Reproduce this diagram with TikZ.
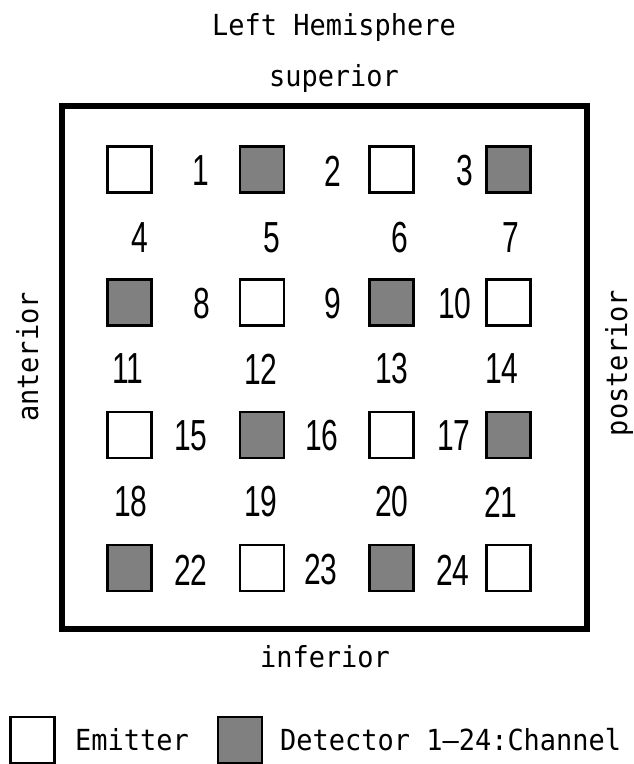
\documentclass[tikz,border=0pt]{standalone}
\usepackage{fontspec}
\setmainfont[FakeStretch=0.93]{DejaVu Sans Mono}
\newfontfamily\digitfont[FakeStretch=0.69]{Liberation Sans}
\definecolor{detgray}{RGB}{128,128,128}
\tikzset{
  probe/.style={draw=black, line width=2.7pt, minimum width=44pt, minimum height=46pt, inner sep=0pt},
  emitter/.style={probe, fill=white},
  detector/.style={probe, fill=detgray},
  chnum/.style={inner sep=0pt, font=\digitfont\fontsize{43.5}{44}\selectfont},
  caption/.style={inner sep=0pt, anchor=base, font=\fontsize{29}{30}\selectfont},
}
\begin{document}
\begin{tikzpicture}[x=1pt, y=-1pt]
  \useasboundingbox (0,0) rectangle (633,764);

  % headings and orientation labels
  \node[caption] (title) at (334,35) {Left Hemisphere};
  \node[caption] (sup) at (334,86) {superior};
  \node[caption] (inf) at (325,667) {inferior};
  \node[caption, rotate=90] (ant) at (38,357) {anterior};
  \node[caption, rotate=90] (post) at (627,363) {posterior};

  % probe holder outline
  \node[draw=black, line width=6pt, minimum width=525pt, minimum height=522.5pt, inner sep=0pt] (holder) at (324.5,367.25) {};

  % optode grid: rows at 169.5, 302.5, 435, 568
  \node[emitter]  (o11) at (129.5,169.5) {};
  \node[detector] (o12) at (262,169.5) {};
  \node[emitter]  (o13) at (391.5,169.5) {};
  \node[detector] (o14) at (508.5,169.5) {};

  \node[detector] (o21) at (129.5,302.5) {};
  \node[emitter]  (o22) at (262,302.5) {};
  \node[detector] (o23) at (391.5,302.5) {};
  \node[emitter]  (o24) at (508.5,302.5) {};

  \node[emitter]  (o31) at (129.5,435) {};
  \node[detector] (o32) at (262,435) {};
  \node[emitter]  (o33) at (391.5,435) {};
  \node[detector] (o34) at (508.5,435) {};

  \node[detector] (o41) at (129.5,568) {};
  \node[emitter]  (o42) at (262,568) {};
  \node[detector] (o43) at (391.5,568) {};
  \node[emitter]  (o44) at (508.5,568) {};

  % channel numbers
  \node[chnum] (c1) at (201,171) {1};
  \node[chnum] (c2) at (333,171) {2};
  \node[chnum] (c3) at (465,171) {3};

  \node[chnum] (c4) at (140,238) {4};
  \node[chnum] (c5) at (272,238) {5};
  \node[chnum] (c6) at (400,238) {6};
  \node[chnum] (c7) at (511,238) {7};

  \node[chnum] (c8) at (202,304) {8};
  \node[chnum] (c9) at (333,304) {9};
  \node[chnum] (c10) at (455,304) {10};

  \node[chnum] (c11) at (128,369) {11};
  \node[chnum] (c12) at (261,369) {12};
  \node[chnum] (c13) at (392,369) {13};
  \node[chnum] (c14) at (502,369) {14};

  \node[chnum] (c15) at (191,436) {15};
  \node[chnum] (c16) at (322,436) {16};
  \node[chnum] (c17) at (454,436) {17};

  \node[chnum] (c18) at (131,502) {18};
  \node[chnum] (c19) at (261,502) {19};
  \node[chnum] (c20) at (392,502) {20};
  \node[chnum] (c21) at (501,502) {21};

  \node[chnum] (c22) at (191,570) {22};
  \node[chnum] (c23) at (321,570) {23};
  \node[chnum] (c24) at (453,570) {24};

  % legend
  \node[emitter]  (legE) at (32.3,740) {};
  \node[caption, anchor=base west] (legEtext) at (75,750) {Emitter};
  \node[detector] (legD) at (240,740) {};
  \node[caption, anchor=base west] (legDtext) at (280,750) {Detector 1--24:Channel};
\end{tikzpicture}
\end{document}
